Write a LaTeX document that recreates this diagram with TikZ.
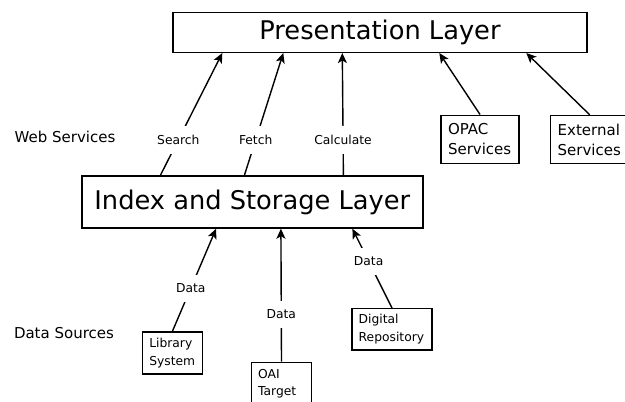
\documentclass[tikz,border=0pt]{standalone}
\usepackage{fontspec}
\setmainfont{DejaVu Sans}
\usetikzlibrary{arrows.meta}
\begin{document}
\begin{tikzpicture}[x=1pt,y=-1pt,
  line width=1.4pt,
  layerbox/.style={draw, inner sep=0pt, font=\fontsize{25.7}{30}\selectfont},
  medbox/.style={draw, align=left, inner xsep=7pt, inner ysep=0pt,
    text width=64pt, minimum height=48pt, font=\fontsize{15}{20}\selectfont},
  smallbox/.style={draw, align=left, inner xsep=6.7pt, inner ysep=0pt,
    minimum height=42pt, font=\fontsize{12.3}{17.7}\selectfont},
  tier/.style={anchor=west, inner sep=0pt, font=\fontsize{15}{18}\selectfont},
  arr/.style={-{Stealth[length=10pt,width=9pt,inset=2.5pt]}},
  lbl/.style={fill=white, inner xsep=3pt, inner ysep=9pt, font=\fontsize{12.3}{14}\selectfont}
]
\clip (0,0) rectangle (625,402);

% layers
\node[layerbox, minimum width=414pt, minimum height=40pt] (pres) at (380,32.3) {Presentation Layer};
\node[layerbox, minimum width=341pt, minimum height=52pt] (idx) at (252.3,202) {Index and Storage Layer};

% tier captions
\node[tier] (web) at (14,136.7) {Web Services};
\node[tier] (src) at (13.3,333) {Data Sources};

% service boxes
\node[medbox] (opac) at (480,139.2) {OPAC\\Services};
\node[medbox] (ext) at (589.7,139.5) {External\\Services};

% data source boxes
\node[smallbox, text width=46.4pt] (lib) at (172.5,352.8) {Library\\System};
\node[smallbox, text width=46.6pt, minimum height=43pt] (oai) at (281.5,383.8) {OAI\\Target};
\node[smallbox, text width=66.6pt, minimum height=41.3pt] (dig) at (392,329.4) {Digital\\Repository};

% web service connectors
\draw[arr] ([xshift=79.3pt]idx.north west) -- node[lbl, pos=0.29] {Search} ([xshift=50pt]pres.south west);
\draw[arr] ([xshift=163.3pt]idx.north west) -- node[lbl, pos=0.29] {Fetch} ([xshift=111pt]pres.south west);
\draw[arr] ([xshift=262.3pt]idx.north west) -- node[lbl, pos=0.29] {Calculate} ([xshift=170pt]pres.south west);
\draw[arr] (opac.north) -- ([xshift=267pt]pres.south west);
\draw[arr] (ext.north) -- ([xshift=354pt]pres.south west);

% data connectors
\draw[arr] (lib.north) -- node[lbl, pos=0.42] {Data} ([xshift=135pt]idx.south west);
\draw[arr] (oai.north) -- node[lbl, pos=0.356] {Data} ([xshift=199.8pt]idx.south west);
\draw[arr] (dig.north) -- node[lbl, pos=0.59] {Data} ([xshift=271.3pt]idx.south west);
\end{tikzpicture}
\end{document}
